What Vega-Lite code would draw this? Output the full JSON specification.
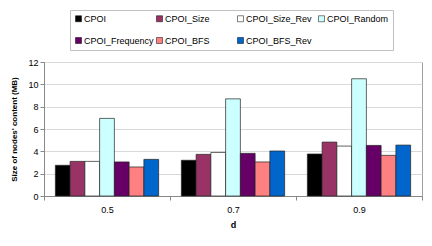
{
  "$schema": "https://vega.github.io/schema/vega-lite/v6.json",
  "width": 378,
  "height": 134,
  "autosize": {"type": "none"},
  "padding": {"left": 44, "top": 62, "right": 10, "bottom": 50},
  "background": "white",
  "data": {
    "values": [
      {"d": "0.5", "series": "CPOI", "value": 2.75},
      {"d": "0.5", "series": "CPOI_Size", "value": 3.1},
      {"d": "0.5", "series": "CPOI_Size_Rev", "value": 3.1},
      {"d": "0.5", "series": "CPOI_Random", "value": 6.95},
      {"d": "0.5", "series": "CPOI_Frequency", "value": 3.05},
      {"d": "0.5", "series": "CPOI_BFS", "value": 2.6},
      {"d": "0.5", "series": "CPOI_BFS_Rev", "value": 3.28},
      {"d": "0.7", "series": "CPOI", "value": 3.2},
      {"d": "0.7", "series": "CPOI_Size", "value": 3.73},
      {"d": "0.7", "series": "CPOI_Size_Rev", "value": 3.9},
      {"d": "0.7", "series": "CPOI_Random", "value": 8.7},
      {"d": "0.7", "series": "CPOI_Frequency", "value": 3.82},
      {"d": "0.7", "series": "CPOI_BFS", "value": 3.05},
      {"d": "0.7", "series": "CPOI_BFS_Rev", "value": 4.03},
      {"d": "0.9", "series": "CPOI", "value": 3.76},
      {"d": "0.9", "series": "CPOI_Size", "value": 4.83},
      {"d": "0.9", "series": "CPOI_Size_Rev", "value": 4.47},
      {"d": "0.9", "series": "CPOI_Random", "value": 10.5},
      {"d": "0.9", "series": "CPOI_Frequency", "value": 4.53},
      {"d": "0.9", "series": "CPOI_BFS", "value": 3.64},
      {"d": "0.9", "series": "CPOI_BFS_Rev", "value": 4.56}
    ]
  },
  "mark": {"type": "bar", "stroke": "#222", "strokeWidth": 0.7},
  "encoding": {
    "x": {
      "field": "d",
      "type": "nominal",
      "scale": {"paddingInner": 0, "paddingOuter": 0},
      "axis": {
        "title": "d",
        "labelAngle": 0,
        "tickBand": "extent",
        "grid": false,
        "labelPadding": 5,
        "titlePadding": 6
      }
    },
    "xOffset": {
      "field": "series",
      "type": "nominal",
      "sort": ["CPOI", "CPOI_Size", "CPOI_Size_Rev", "CPOI_Random", "CPOI_Frequency", "CPOI_BFS", "CPOI_BFS_Rev"],
      "scale": {"paddingInner": 0, "paddingOuter": 0.77}
    },
    "y": {
      "field": "value",
      "type": "quantitative",
      "scale": {"domain": [0, 12]},
      "axis": {
        "values": [0, 2, 4, 6, 8, 10, 12],
        "title": "Size of nodes' content (MB)",
        "titleFontSize": 8,
        "labelPadding": 2,
        "titlePadding": 9
      }
    },
    "color": {
      "field": "series",
      "type": "nominal",
      "scale": {
        "domain": ["CPOI", "CPOI_Size", "CPOI_Size_Rev", "CPOI_Random", "CPOI_Frequency", "CPOI_BFS", "CPOI_BFS_Rev"],
        "range": ["#000000", "#993366", "#FFFFFF", "#CCFFFF", "#660066", "#FF8080", "#0066CC"]
      },
      "legend": {
        "title": null,
        "orient": "none",
        "legendX": 26,
        "legendY": -52,
        "columns": 4,
        "direction": "horizontal",
        "gridAlign": "all",
        "symbolType": "square",
        "symbolSize": 36,
        "symbolStrokeColor": "#000",
        "symbolStrokeWidth": 0.5,
        "labelFontSize": 9,
        "labelOffset": 1,
        "labelColor": "#000",
        "columnPadding": 1,
        "rowPadding": 12,
        "padding": 4,
        "strokeColor": "#c0c0c0"
      }
    }
  },
  "config": {
    "font": "Liberation Sans",
    "view": {"stroke": "#a0a0a0"},
    "axis": {
      "domainColor": "#888888",
      "tickColor": "#888888",
      "tickSize": 4,
      "labelColor": "#000",
      "labelFontSize": 9,
      "titleFontSize": 9,
      "titleFontWeight": "bold",
      "titleColor": "#000",
      "gridColor": "#d9d9d9"
    }
  }
}
